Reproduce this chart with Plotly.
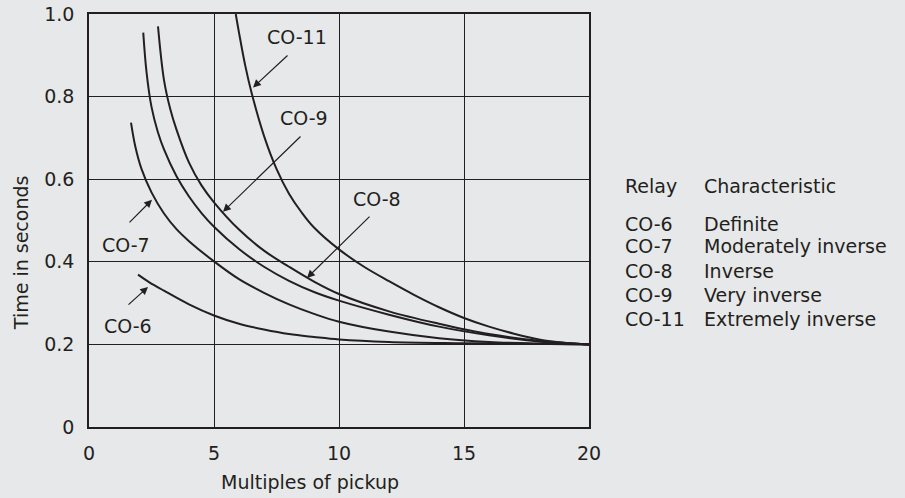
import plotly.graph_objects as go

# ---- data ----
x_tickvals = [0, 5, 10, 15, 20]
x_ticktext = ["0", "5", "10", "15", "20"]
y_tickvals = [0, 0.2, 0.4, 0.6, 0.8, 1.0]
y_ticktext = ["0", "0.2", "0.4", "0.6", "0.8", "1.0"]

co6_x = [1.96, 2.4, 3.0, 4.0, 5.0, 6.0, 7.0, 8.0, 9.0, 10.0, 12.0, 15.0, 20.0]
co6_y = [0.369, 0.351, 0.330, 0.297, 0.270, 0.250, 0.236, 0.225, 0.218, 0.212, 0.206, 0.203, 0.200]

co7_x = [1.68, 1.85, 2.1, 2.5, 3.0, 3.5, 4.0, 5.0, 6.0, 7.0, 8.0, 9.0, 10.0, 12.0, 14.0, 16.0, 18.0, 20.0]
co7_y = [0.737, 0.680, 0.625, 0.568, 0.517, 0.479, 0.450, 0.401, 0.358, 0.325, 0.297, 0.274, 0.255,
         0.231, 0.215, 0.206, 0.202, 0.200]

co8_x = [2.17, 2.3, 2.5, 2.75, 3.0, 3.5, 4.0, 4.5, 5.0, 6.0, 7.0, 8.0, 9.0, 10.0, 12.0, 14.0, 16.0, 18.0, 20.0]
co8_y = [0.955, 0.860, 0.775, 0.715, 0.672, 0.607, 0.558, 0.518, 0.485, 0.431, 0.388, 0.354, 0.327,
         0.306, 0.272, 0.243, 0.222, 0.207, 0.200]

co9_x = [2.76, 3.0, 3.25, 3.5, 4.0, 4.5, 5.0, 6.0, 7.0, 8.0, 9.0, 10.0, 12.0, 14.0, 16.0, 18.0, 20.0]
co9_y = [0.970, 0.840, 0.770, 0.720, 0.640, 0.585, 0.544, 0.478, 0.427, 0.388, 0.352, 0.322, 0.280,
         0.250, 0.225, 0.209, 0.200]

co11_x = [5.87, 6.0, 6.25, 6.5, 7.0, 7.5, 8.0, 8.5, 9.0, 10.0, 11.0, 12.0, 13.0, 14.0, 15.0, 16.0,
          17.0, 18.0, 19.0, 20.0]
co11_y = [1.0, 0.955, 0.875, 0.810, 0.705, 0.625, 0.565, 0.520, 0.483, 0.430, 0.388, 0.353, 0.320,
          0.290, 0.264, 0.243, 0.226, 0.212, 0.204, 0.200]

relays = ["CO-6", "CO-7", "CO-8", "CO-9", "CO-11"]
characteristics = ["Definite", "Moderately inverse", "Inverse", "Very inverse", "Extremely inverse"]

# curve label positions and arrows (data coords)
label_text = ["CO-11", "CO-9", "CO-8", "CO-7", "CO-6"]
label_x = [8.32, 8.60, 11.52, 1.48, 1.56]
label_y = [0.944, 0.748, 0.552, 0.441, 0.245]
arrow_tail_x = [8.00, 8.52, 11.28, 1.56, 1.52]
arrow_tail_y = [0.903, 0.707, 0.513, 0.492, 0.293]
arrow_tip_x = [6.56, 5.36, 8.72, 2.52, 2.36]
arrow_tip_y = [0.822, 0.521, 0.361, 0.550, 0.339]

INK = "#231f20"
BG = "#e7e8e9"
FONT = "DejaVu Sans"
FS = 19

fig = go.Figure()
for xs, ys in [(co6_x, co6_y), (co7_x, co7_y), (co8_x, co8_y), (co9_x, co9_y), (co11_x, co11_y)]:
    fig.add_trace(go.Scatter(x=xs, y=ys, mode="lines",
                             line=dict(color=INK, width=2, shape="spline", smoothing=1.0),
                             showlegend=False, hoverinfo="skip"))

def txt(**kw):
    d = dict(showarrow=False, font=dict(family=FONT, size=FS, color=INK))
    d.update(kw)
    return d

ann = []
for t, lx, ly in zip(label_text, label_x, label_y):
    ann.append(txt(x=lx, y=ly, xref="x", yref="y", text=t, xanchor="center", yanchor="middle"))
for tx, ty, hx, hy in zip(arrow_tail_x, arrow_tail_y, arrow_tip_x, arrow_tip_y):
    ann.append(dict(x=hx, y=hy, ax=tx, ay=ty, xref="x", yref="y", axref="x", ayref="y",
                    text="", showarrow=True, arrowhead=2, arrowsize=1.3, arrowwidth=1.2,
                    arrowcolor=INK, standoff=0, startstandoff=0))

# axis titles
ann.append(txt(x=-0.136, y=0.421, xref="paper", yref="paper", text="Time in seconds",
               textangle=-90, xanchor="center", yanchor="middle"))
ann.append(txt(x=0.442, y=-0.133, xref="paper", yref="paper", text="Multiples of pickup",
               xanchor="center", yanchor="middle"))

# relay table
col1 = 1.068
col2 = 1.226
ann.append(txt(x=col1, y=0.584, xref="paper", yref="paper", text="Relay", xanchor="left", yanchor="middle"))
ann.append(txt(x=col2, y=0.584, xref="paper", yref="paper", text="Characteristic", xanchor="left", yanchor="middle"))
row_y = [0.4915, 0.438, 0.378, 0.320, 0.262]
for r, c, yy in zip(relays, characteristics, row_y):
    ann.append(txt(x=col1, y=yy, xref="paper", yref="paper", text=r, xanchor="left", yanchor="middle"))
    ann.append(txt(x=col2, y=yy, xref="paper", yref="paper", text=c, xanchor="left", yanchor="middle"))

axis_common = dict(showgrid=True, gridcolor=INK, gridwidth=1.3, showline=True, mirror=True,
                   linecolor=INK, linewidth=1.5, zeroline=False, ticks="", automargin=False,
                   tickfont=dict(family=FONT, size=FS, color=INK))

fig.update_layout(
    width=905, height=498,
    margin=dict(l=89, r=316, t=14, b=71, autoexpand=False),
    paper_bgcolor=BG, plot_bgcolor=BG,
    xaxis=dict(range=[0, 20], tickvals=x_tickvals, ticktext=x_ticktext,
               ticklabelstandoff=8, **axis_common),
    yaxis=dict(range=[0, 1.0], tickvals=y_tickvals, ticktext=y_ticktext,
               ticklabelstandoff=9, **axis_common),
    annotations=ann,
    showlegend=False,
)

fig.write_html("out.html", config={"displayModeBar": False},
               post_script="document.body.style.margin='0';")
